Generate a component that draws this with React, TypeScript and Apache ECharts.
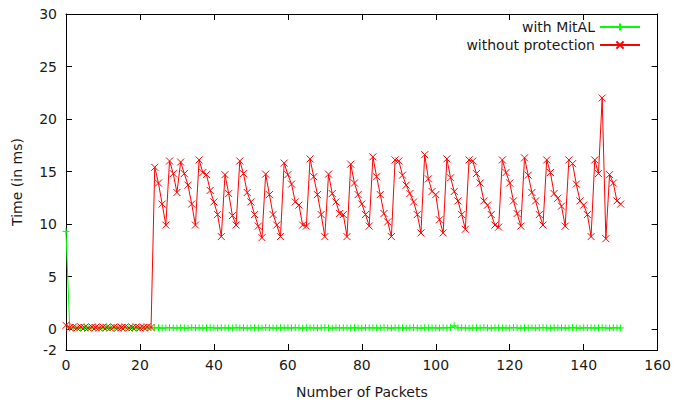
import React, { useEffect, useRef } from "react";
import * as echarts from "echarts";

// Packet index 0..150 (x values)
const packetCount = 151;

// "with MitAL" — time in ms per packet
const withMitAL: number[] = [
  9.3, 0.1, 0.12, 0.08, 0.1, 0.11, 0.09, 0.1, 0.12, 0.1,
  0.08, 0.1, 0.11, 0.1, 0.09, 0.1, 0.12, 0.1, 0.08, 0.1,
  0.11, 0.1, 0.09, 0.15, 0.1, 0.12, 0.08, 0.1, 0.13, 0.1,
  0.09, 0.12, 0.1, 0.08, 0.14, 0.1, 0.11, 0.09, 0.1, 0.13,
  0.1, 0.08, 0.12, 0.1, 0.1, 0.09, 0.13, 0.1, 0.11, 0.08,
  0.1, 0.12, 0.1, 0.09, 0.14, 0.1, 0.1, 0.08, 0.12, 0.1,
  0.11, 0.09, 0.13, 0.1, 0.08, 0.12, 0.1, 0.11, 0.09, 0.1,
  0.14, 0.1, 0.08, 0.12, 0.1, 0.11, 0.1, 0.09, 0.13, 0.1,
  0.08, 0.12, 0.1, 0.11, 0.1, 0.09, 0.14, 0.1, 0.08, 0.12,
  0.1, 0.11, 0.09, 0.1, 0.13, 0.1, 0.08, 0.12, 0.1, 0.11,
  0.1, 0.09, 0.12, 0.1, 0.15, 0.3, 0.1, 0.12, 0.1, 0.08,
  0.1, 0.11, 0.09, 0.13, 0.1, 0.08, 0.12, 0.1, 0.11, 0.1,
  0.09, 0.14, 0.1, 0.08, 0.12, 0.1, 0.11, 0.09, 0.1, 0.13,
  0.1, 0.08, 0.12, 0.1, 0.11, 0.1, 0.09, 0.14, 0.1, 0.08,
  0.12, 0.1, 0.11, 0.09, 0.1, 0.13, 0.1, 0.08, 0.12, 0.1,
  0.1,
];

// "without protection" — time in ms per packet
const withoutProtection: number[] = [
  0.35, 0.15, 0.2, 0.1, 0.2, 0.15, 0.1, 0.2, 0.15, 0.1,
  0.2, 0.15, 0.1, 0.2, 0.1, 0.15, 0.2, 0.1, 0.15, 0.2,
  0.1, 0.15, 0.2, 0.15, 15.4, 13.9, 11.9, 9.9, 16.0, 14.8,
  13.0, 15.9, 14.8, 13.7, 11.9, 9.9, 16.1, 14.9, 14.7, 13.2,
  12.1, 10.9, 8.8, 14.7, 12.9, 10.8, 9.9, 16.0, 14.8, 13.0,
  12.1, 10.9, 9.8, 8.7, 14.75, 12.8, 10.9, 9.9, 8.8, 15.8,
  14.7, 13.8, 12.1, 11.8, 9.9, 9.8, 16.2, 14.5, 12.8, 10.9,
  8.8, 14.75, 12.9, 12.1, 11.0, 10.9, 8.8, 15.7, 13.9, 12.8,
  11.9, 10.9, 9.8, 16.4, 14.5, 12.8, 11.0, 10.2, 8.8, 16.1,
  16.0, 14.65, 13.7, 12.9, 12.1, 10.9, 9.15, 16.6, 14.3, 13.1,
  12.8, 10.4, 9.15, 16.2, 14.4, 13.1, 12.2, 10.9, 9.5, 16.1,
  16.0, 14.8, 13.9, 12.2, 11.8, 10.9, 9.9, 9.7, 16.1, 14.9,
  13.9, 12.2, 11.0, 9.8, 16.3, 14.65, 13.0, 12.2, 10.9, 9.9,
  16.1, 14.9, 12.9, 12.45, 11.7, 9.8, 16.1, 15.75, 13.8, 12.2,
  11.8, 10.9, 8.8, 16.1, 14.8, 22.0, 8.6, 14.7, 13.9, 12.2,
  11.9,
];

const yLabelValues = [-2, 0, 5, 10, 15, 20, 25, 30];
const yTickValues = [0, 5, 10, 15, 20, 25, 30];

const seriesNames = ["with MitAL", "without protection"];
const xName = "Number of Packets";
const yName = "Time (in ms)";

const FONT = "DejaVu Sans";
const TEXT = "#1a1a1a";

const toPairs = (vals: number[]) =>
  vals.slice(0, packetCount).map((v, i) => [i, v]);

export default function App() {
  const ref = useRef<HTMLDivElement>(null);

  useEffect(() => {
    if (!ref.current) return;
    const chart = echarts.init(ref.current, undefined, { renderer: "svg" });

    const axisLine = { show: true, onZero: false, lineStyle: { color: "#000", width: 1 } };
    const tick = { show: true, inside: true, length: 6, lineStyle: { color: "#000", width: 1 } };

    chart.setOption({
      animation: false,
      backgroundColor: "#fff",
      grid: { left: 66, right: 16, top: 14, bottom: 51, containLabel: false },
      legend: {
        data: seriesNames,
        orient: "vertical",
        align: "right",
        right: 33,
        top: 20,
        padding: 0,
        itemWidth: 40,
        itemHeight: 9,
        itemGap: 4,
        textStyle: { fontFamily: FONT, fontSize: 14, color: TEXT, lineHeight: 14 },
      },
      xAxis: [
        {
          type: "value",
          position: "bottom",
          min: 0,
          max: 160,
          interval: 20,
          axisLine,
          axisTick: tick,
          splitLine: { show: false },
          axisLabel: { fontFamily: FONT, fontSize: 14, color: TEXT, margin: 8 },
          name: xName,
          nameLocation: "middle",
          nameGap: 35,
          nameTextStyle: { fontFamily: FONT, fontSize: 14, color: TEXT },
        },
        {
          type: "value",
          position: "top",
          min: 0,
          max: 160,
          interval: 20,
          axisLine,
          axisTick: tick,
          splitLine: { show: false },
          axisLabel: { show: false },
        },
      ],
      yAxis: [
        {
          type: "value",
          position: "left",
          min: -2,
          max: 30,
          axisLine,
          axisTick: { ...tick, customValues: yTickValues },
          splitLine: { show: false },
          axisLabel: {
            fontFamily: FONT,
            fontSize: 14,
            color: TEXT,
            margin: 9,
            customValues: yLabelValues,
          },
          name: yName,
          nameLocation: "middle",
          nameGap: 42,
          nameRotate: 90,
          nameTextStyle: { fontFamily: FONT, fontSize: 14, color: TEXT },
        },
        {
          type: "value",
          position: "right",
          min: -2,
          max: 30,
          axisLine,
          axisTick: { ...tick, customValues: yTickValues },
          splitLine: { show: false },
          axisLabel: { show: false },
        },
      ],
      series: [
        {
          name: seriesNames[0],
          type: "line",
          data: toPairs(withMitAL),
          symbol: "path://M5,0L5,10M0,5L10,5",
          symbolSize: 7,
          showAllSymbol: true,
          lineStyle: { color: "#00ff00", width: 1 },
          itemStyle: { color: "#00ff00", borderColor: "#00ff00", borderWidth: 1 },
          emphasis: { disabled: true },
        },
        {
          name: seriesNames[1],
          type: "line",
          data: toPairs(withoutProtection),
          symbol: "path://M0,0L10,10M10,0L0,10",
          symbolSize: 7,
          showAllSymbol: true,
          lineStyle: { color: "#ff0000", width: 1 },
          itemStyle: { color: "#ff0000", borderColor: "#ff0000", borderWidth: 1 },
          emphasis: { disabled: true },
        },
      ],
    });

    return () => chart.dispose();
  }, []);

  return (
    <div
      ref={ref}
      style={{ position: "absolute", left: 0, top: 0, width: 674, height: 404 }}
    />
  );
}
